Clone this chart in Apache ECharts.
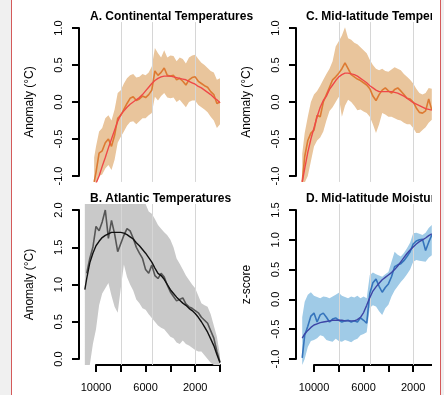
<!DOCTYPE html>
<html>
<head>
<meta charset="utf-8">
<script src="https://cdn.jsdelivr.net/npm/echarts@6/dist/echarts.min.js"></script>
<style>
  html, body { margin: 0; padding: 0; background: #f0f0f0; }
  #frame { position: absolute; left: 11px; top: 0; width: 428px; height: 395px; background: #fff;
           border-left: 1px solid #d45a5a; border-right: 1px solid #d45a5a; }
  #chart { position: absolute; left: 0; top: 0; width: 444px; height: 395px; }
  #crop { position: absolute; left: 432px; top: 0; width: 8px; height: 395px; background: #fff; }
</style>
</head>
<body>
<div id="frame"></div>
<div id="chart"></div>
<div id="crop"></div>
<script>
// years before present
const yearsA = [10150, 10000, 9750, 9500, 9250, 9000, 8750, 8500, 8250, 8000, 7750, 7500, 7250, 7000, 6750, 6500, 6250, 6000, 5750, 5500, 5250, 5000, 4750, 4500, 4250, 4000, 3750, 3500, 3250, 3000, 2750, 2500, 2250, 2000, 1750, 1500, 1250, 1000, 750, 500, 250, 0]
const lineA = [-1.08, -0.95, -0.69, -0.66, -0.55, -0.5, -0.6, -0.45, -0.22, -0.18, -0.1, -0.02, 0.05, 0.07, 0.02, 0.04, 0.08, 0.06, 0.1, 0.16, 0.42, 0.36, 0.4, 0.46, 0.36, 0.35, 0.36, 0.3, 0.32, 0.28, 0.23, 0.3, 0.33, 0.34, 0.28, 0.25, 0.22, 0.2, 0.14, 0.1, -0.02, 0.0]
const fitA = [null, -1.1, -1.0, -0.87, -0.75, -0.62, -0.5, -0.38, -0.26, -0.17, -0.12, -0.07, -0.03, 0.0, 0.03, 0.06, 0.1, 0.15, 0.2, 0.25, 0.29, 0.32, 0.34, 0.35, 0.35, 0.35, 0.34, 0.33, 0.32, 0.31, 0.3, 0.28, 0.26, 0.24, 0.21, 0.19, 0.16, 0.13, 0.1, 0.06, 0.03, -0.01]
const upperA = [-0.75, -0.6, -0.4, -0.35, -0.22, -0.18, -0.25, -0.1, 0.12, 0.16, 0.25, 0.32, 0.36, 0.38, 0.33, 0.34, 0.38, 0.36, 0.4, 0.48, 0.73, 0.66, 0.6, 0.7, 0.6, 0.63, 0.62, 0.55, 0.6, 0.58, 0.52, 0.6, 0.63, 0.64, 0.58, 0.53, 0.5, 0.46, 0.42, 0.4, 0.3, 0.32]
const lowerA = [-1.09, -1.09, -1.0, -0.98, -0.9, -0.85, -0.92, -0.78, -0.55, -0.47, -0.4, -0.32, -0.27, -0.26, -0.3, -0.26, -0.22, -0.22, -0.18, -0.15, 0.07, 0.02, 0.08, 0.12, 0.06, 0.05, 0.06, 0.0, 0.03, -0.02, -0.07, 0.0, 0.02, 0.02, -0.04, -0.07, -0.1, -0.14, -0.2, -0.25, -0.35, -0.3]

const yearsB = [10900, 10750, 10500, 10250, 10000, 9750, 9500, 9250, 9000, 8750, 8500, 8250, 8000, 7750, 7500, 7250, 7000, 6750, 6500, 6250, 6000, 5750, 5500, 5250, 5000, 4750, 4500, 4250, 4000, 3750, 3500, 3250, 3000, 2750, 2500, 2250, 2000, 1750, 1500, 1250, 1000, 750, 500, 250, 0]
const lineB = [null, 1.15, 1.35, 1.5, 1.78, 1.72, 1.84, 2.0, 1.62, 1.86, 1.68, 1.44, 1.55, 1.66, 1.75, 1.72, 1.62, 1.5, 1.42, 1.35, 1.2, 1.15, 1.26, 1.12, 1.08, 1.15, 1.1, 0.99, 0.9, 0.84, 0.78, 0.8, 0.82, 0.74, 0.7, 0.68, 0.65, 0.62, 0.56, 0.52, 0.48, 0.38, 0.28, 0.1, -0.04]
const fitB = [0.93, 1.08, 1.29, 1.42, 1.52, 1.58, 1.63, 1.66, 1.68, 1.7, 1.7, 1.7, 1.7, 1.69, 1.67, 1.64, 1.61, 1.56, 1.52, 1.47, 1.42, 1.36, 1.3, 1.22, 1.15, 1.12, 1.07, 1.0, 0.93, 0.88, 0.83, 0.79, 0.75, 0.72, 0.68, 0.65, 0.61, 0.56, 0.5, 0.43, 0.36, 0.27, 0.18, 0.06, -0.05]
const upperB = [2.08, 2.08, 2.08, 2.08, 2.08, 2.08, 2.08, 2.08, 2.08, 2.08, 2.08, 2.08, 2.08, 2.08, 2.08, 2.08, 2.08, 2.08, 2.08, 2.08, 2.08, 1.98, 1.95, 1.88, 1.8, 1.75, 1.7, 1.66, 1.6, 1.5, 1.35, 1.28, 1.2, 1.12, 1.06, 1.0, 0.95, 0.85, 0.75, 0.72, 0.7, 0.6, 0.45, 0.3, 0.05]
const lowerB = [-0.08, -0.08, -0.08, 0.2, 0.4, 0.72, 0.88, 0.95, 1.02, 0.85, 0.7, 0.62, 0.95, 1.27, 1.1, 1.0, 0.92, 0.8, 0.75, 0.68, 0.66, 0.6, 0.55, 0.5, 0.45, 0.42, 0.4, 0.35, 0.3, 0.28, 0.22, 0.2, 0.25, 0.2, 0.18, 0.15, 0.12, 0.1, 0.1, 0.05, 0.0, -0.05, -0.08, -0.08, -0.08]

const yearsCD = [10950, 10750, 10500, 10250, 10000, 9750, 9500, 9250, 9000, 8750, 8500, 8250, 8000, 7750, 7500, 7250, 7000, 6750, 6500, 6250, 6000, 5750, 5500, 5250, 5000, 4750, 4500, 4250, 4000, 3750, 3500, 3250, 3000, 2750, 2500, 2250, 2000, 1750, 1500, 1250, 1000, 750, 500]
const lineC = [-1.08, -0.74, -0.52, -0.42, -0.38, -0.18, -0.2, 0.0, 0.1, 0.2, 0.3, 0.34, 0.39, 0.45, 0.53, 0.45, 0.37, 0.34, 0.31, 0.29, 0.26, 0.23, 0.18, 0.08, 0.02, 0.1, 0.16, 0.19, 0.15, 0.12, 0.17, 0.19, 0.15, 0.1, 0.05, 0.04, 0.0, -0.08, -0.14, -0.15, -0.12, 0.04, -0.11]
const fitC = [-1.08, -0.9, -0.68, -0.5, -0.35, -0.2, -0.07, 0.02, 0.08, 0.17, 0.23, 0.29, 0.34, 0.37, 0.39, 0.39, 0.38, 0.37, 0.35, 0.32, 0.29, 0.26, 0.22, 0.19, 0.16, 0.14, 0.14, 0.14, 0.14, 0.14, 0.13, 0.12, 0.1, 0.08, 0.05, 0.02, -0.01, -0.03, -0.05, -0.07, -0.09, -0.1, -0.11]
const upperC = [-0.7, -0.42, -0.2, 0.0, 0.1, 0.15, 0.22, 0.3, 0.38, 0.45, 0.55, 0.75, 0.82, 0.9, 1.01, 0.86, 0.84, 0.8, 0.78, 0.74, 0.7, 0.66, 0.57, 0.5, 0.45, 0.43, 0.45, 0.42, 0.41, 0.44, 0.47, 0.45, 0.43, 0.38, 0.34, 0.3, 0.25, 0.18, 0.12, 0.1, 0.12, 0.19, 0.18]
const lowerC = [-1.09, -1.09, -1.0, -0.8, -0.6, -0.52, -0.48, -0.4, -0.25, -0.12, -0.07, 0.0, 0.07, -0.2, -0.05, 0.03, 0.0, -0.05, -0.11, -0.1, -0.13, -0.15, -0.2, -0.3, -0.42, -0.3, -0.15, -0.17, -0.2, -0.2, -0.22, -0.24, -0.25, -0.28, -0.3, -0.3, -0.35, -0.42, -0.42, -0.38, -0.34, -0.28, -0.24]

const lineD = [-0.98, -0.6, -0.45, -0.28, -0.23, -0.38, -0.26, -0.23, -0.3, -0.38, -0.33, -0.31, -0.35, -0.38, -0.36, -0.35, -0.38, -0.36, -0.38, -0.31, -0.35, -0.4, 0.1, 0.28, 0.34, 0.22, 0.12, 0.2, 0.26, 0.38, 0.55, 0.58, 0.6, 0.65, 0.72, 0.8, 0.93, 0.98, 1.0, 1.01, 0.82, 0.96, 1.08]
const fitD = [-0.65, -0.58, -0.52, -0.47, -0.43, -0.41, -0.39, -0.38, -0.37, -0.36, -0.35, -0.35, -0.35, -0.35, -0.36, -0.36, -0.36, -0.36, -0.34, -0.3, -0.22, -0.1, 0.03, 0.14, 0.21, 0.27, 0.33, 0.37, 0.41, 0.45, 0.5, 0.56, 0.63, 0.7, 0.77, 0.83, 0.88, 0.93, 0.97, 1.0, 1.03, 1.07, 1.1]
const upperD = [-0.3, -0.04, 0.08, 0.12, 0.06, 0.04, 0.02, 0.05, 0.04, 0.02, 0.05, 0.08, 0.11, 0.06, 0.04, 0.02, 0.05, 0.03, 0.06, 0.02, 0.05, 0.02, 0.41, 0.45, 0.42, 0.4, 0.38, 0.42, 0.46, 0.63, 0.8, 0.75, 0.72, 0.78, 0.86, 0.95, 1.11, 1.12, 1.1, 1.08, 1.12, 1.2, 1.25]
const lowerD = [-1.1, -1.0, -0.8, -0.7, -0.68, -0.65, -0.6, -0.62, -0.68, -0.7, -0.71, -0.66, -0.7, -0.71, -0.68, -0.7, -0.72, -0.68, -0.66, -0.6, -0.58, -0.55, -0.14, -0.1, -0.12, -0.2, -0.26, -0.15, -0.09, 0.05, 0.15, 0.22, 0.29, 0.35, 0.42, 0.5, 0.63, 0.66, 0.65, 0.64, 0.63, 0.7, 0.74]

// vertical reference lines and labelled x ticks
const gridYears = [8000, 5500, 2000]
const xLabelYears = [10000, 6000, 2000]

const FONT = "'Liberation Sans', Arial, sans-serif"
const PX_PER_YR = 0.0124

const panels = [
  { title: 'A. Continental Temperatures', titleLeft: 85, yName: 'Anomaly (°C)', left: 96, top: 28, height: 148, yMin: -1, yMax: 1, pad: 0.08,
    xs: yearsA, line: lineA, fit: fitA, hi: upperA, lo: lowerA, band: '#e9c59c', lineColor: '#dd7a32', fitColor: '#ef4848', showX: false },
  { title: 'B. Atlantic Temperatures', titleLeft: 85, yName: 'Anomaly (°C)', left: 96, top: 210, height: 149, yMin: 0, yMax: 2, pad: 0.08,
    xs: yearsB, line: lineB, fit: fitB, hi: upperB, lo: lowerB, band: '#c9c9c9', lineColor: '#555555', fitColor: '#111111', showX: true },
  { title: 'C. Mid-latitude Temper', titleLeft: 301, yName: 'Anomaly (°C)', left: 314, top: 28, height: 148, yMin: -1, yMax: 1, pad: 0.08,
    xs: yearsCD, line: lineC, fit: fitC, hi: upperC, lo: lowerC, band: '#e9c59c', lineColor: '#dd7a32', fitColor: '#ef4848', showX: false },
  { title: 'D. Mid-latitude Moistur', titleLeft: 301, yName: 'z-score', left: 314, top: 210, height: 149, yMin: -1, yMax: 1.5, pad: 0.1,
    xs: yearsCD, line: lineD, fit: fitD, hi: upperD, lo: lowerD, band: '#a0cbe7', lineColor: '#3574bc', fitColor: '#3d45a6', showX: true }
]

const zip = (xs, ys) => xs.map((x, i) => [x, ys[i]])

const grid = [], xAxis = [], yAxis = [], series = [], title = []

panels.forEach((p, k) => {
  const frame = 2 * k, plot = 2 * k + 1
  const pxPerY = p.height / (p.yMax - p.yMin)
  // frame: tick range with visible axes
  grid.push({ left: p.left, top: p.top, width: 124, height: p.height })
  // plot region: R-style extended range, holds the data
  grid.push({ left: p.left - 1250 * PX_PER_YR, top: p.top - p.pad * pxPerY,
              width: 124 + 1500 * PX_PER_YR, height: p.height + 2 * p.pad * pxPerY })

  xAxis.push({
    gridIndex: frame, type: 'value', min: 0, max: 10000, interval: 2000, inverse: true,
    show: p.showX, position: 'bottom', offset: 6,
    axisLine: { show: true, onZero: false, lineStyle: { color: '#000', width: 2 } },
    axisTick: { show: true, length: 7, lineStyle: { color: '#000', width: 2 } },
    axisLabel: { margin: 17, fontSize: 11, color: '#000', fontFamily: FONT,
                 formatter: v => (xLabelYears.includes(v) ? String(v) : '') },
    splitLine: { show: false }
  })
  xAxis.push({ gridIndex: plot, type: 'value', min: -250, max: 11250, inverse: true, show: false,
               axisLine: { onZero: false }, splitLine: { show: false } })

  yAxis.push({
    gridIndex: frame, type: 'value', min: p.yMin, max: p.yMax, interval: 0.5, offset: p.left === 96 ? 17 : 18,
    position: 'left',
    name: p.yName, nameLocation: 'middle', nameGap: 43,
    nameTextStyle: { fontSize: 12, color: '#000', fontFamily: FONT },
    axisLine: { show: true, onZero: false, lineStyle: { color: '#000', width: 2 } },
    axisTick: { show: true, length: 7, lineStyle: { color: '#000', width: 2 } },
    axisLabel: { rotate: 90, margin: 15, fontSize: 11, color: '#000', fontFamily: FONT, formatter: v => v.toFixed(1) },
    splitLine: { show: false }
  })
  yAxis.push({ gridIndex: plot, type: 'value', min: p.yMin - p.pad, max: p.yMax + p.pad, show: false,
               axisLine: { onZero: false }, splitLine: { show: false } })

  const common = { xAxisIndex: plot, yAxisIndex: plot, silent: true, animation: false }
  // uncertainty band as one polygon: upper edge forward, lower edge back
  series.push({
    ...common, type: 'custom', clip: true, z: 1,
    data: p.xs.map((x, i) => [x, p.lo[i], p.hi[i]]),
    renderItem: (params, api) => {
      if (params.dataIndex !== 0) return null
      const top = p.xs.map((x, i) => api.coord([x, p.hi[i]]))
      const bot = p.xs.map((x, i) => api.coord([x, p.lo[i]])).reverse()
      return { type: 'polygon', shape: { points: top.concat(bot) }, style: { fill: p.band } }
    }
  })
  series.push({ ...common, type: 'line', symbol: 'none', data: zip(p.xs, p.line),
                lineStyle: { color: p.lineColor, width: 1.6 }, z: 3 })
  series.push({ ...common, type: 'line', symbol: 'none', data: zip(p.xs, p.fit),
    lineStyle: { color: p.fitColor, width: 1.4 }, z: 4,
    markLine: {
      silent: true, symbol: ['none', 'none'], label: { show: false }, z: 2, animation: false,
      lineStyle: { color: '#d6d6d6', width: 1, type: 'solid' },
      data: gridYears.map(v => ({ xAxis: v }))
    }
  })

  title.push({ text: p.title, left: p.titleLeft, top: p.top - 22,
               textStyle: { fontSize: 12, fontWeight: 'bold', color: '#000', fontFamily: FONT } })
})

const chart = echarts.init(document.getElementById('chart'), null, { renderer: 'canvas' })
chart.setOption({ animation: false, title, grid, xAxis, yAxis, series })
</script>
</body>
</html>
